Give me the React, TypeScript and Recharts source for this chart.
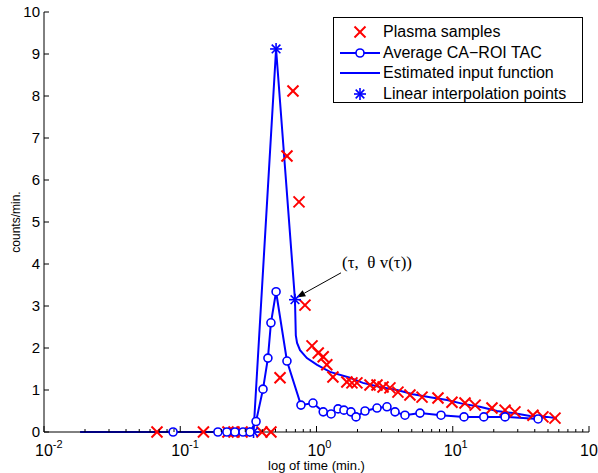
import React from "react";
import {
  ComposedChart,
  Label,
  Legend,
  Line,
  ReferenceLine,
  Scatter,
  XAxis,
  YAxis,
} from "recharts";

// plasma samples (red crosses)
const plasmaTime = [
  0.0675, 0.148, 0.224, 0.248, 0.284, 0.398, 0.463, 0.54, 0.607, 0.672, 0.744, 0.823,
  0.927, 1.03, 1.12, 1.19, 1.32, 1.67, 1.82, 1.98, 2.47, 2.78, 3.08, 3.46, 3.96, 4.85,
  5.95, 7.79, 9.87, 12.3, 14.6, 19.4, 24.2, 28.6, 38.8, 45.9, 56.3,
];
const plasmaCounts = [
  0, 0, 0, 0, 0, 0, 0, 1.29, 6.57, 8.12, 5.48, 3.02,
  2.05, 1.88, 1.79, 1.6, 1.31, 1.19, 1.17, 1.17, 1.12, 1.12, 1.07, 1.05, 0.95, 0.88,
  0.83, 0.81, 0.71, 0.69, 0.64, 0.57, 0.52, 0.48, 0.4, 0.36, 0.33,
];

// average CA-ROI TAC (circles)
const roiTime = [
  0.0886, 0.189, 0.22, 0.252, 0.289, 0.325, 0.36, 0.405, 0.44, 0.463, 0.505, 0.607,
  0.769, 0.942, 1.12, 1.28, 1.44, 1.59, 1.79, 1.95, 2.27, 2.78, 3.29, 3.77, 4.46,
  5.75, 8.2, 12.1, 16.9, 24.2, 42.3,
];
const roiCounts = [
  0, 0, 0, 0, 0, 0, 0.25, 1.02, 1.76, 2.6, 3.34, 1.69,
  0.64, 0.69, 0.48, 0.43, 0.55, 0.52, 0.48, 0.36, 0.5, 0.57, 0.6, 0.48, 0.4,
  0.45, 0.4, 0.36, 0.36, 0.36, 0.31,
];

// estimated input function (plain line)
const inputTime = [
  0.0184, 0.345, 0.505, 0.695, 0.705, 0.72, 0.757, 0.85, 1.01, 1.256, 1.76, 2.19, 2.92,
  3.9, 5.11, 6.81, 9.08, 11.9, 15.8, 21.1, 27.7, 36.9, 49.2, 58.2,
];
const inputCounts = [
  0, 0, 9.12, 3.15, 2.3, 2.12, 1.95, 1.76, 1.6, 1.43, 1.29, 1.17, 1.07,
  1.0, 0.9, 0.83, 0.76, 0.67, 0.6, 0.5, 0.45, 0.38, 0.36, 0.33,
];

// linear interpolation points (stars)
const knotTime = [0.345, 0.505, 0.695];
const knotCounts = [0, 9.12, 3.15];

const xTicks = [0.01, 0.1, 1, 10, 100];
const xMinorFactors = [2, 3, 4, 5, 6, 7, 8, 9];
const yTicks = [0, 1, 2, 3, 4, 5, 6, 7, 8, 9, 10];

const zip = (t: number[], y: number[]) => t.map((v, i) => ({ t: v, y: y[i] }));
const plasma = zip(plasmaTime, plasmaCounts);
const roi = zip(roiTime, roiCounts);
const input = zip(inputTime, inputCounts);
const knots = zip(knotTime, knotCounts);

const allXTicks = [
  ...xTicks,
  ...xTicks.slice(0, -1).flatMap((d) => xMinorFactors.map((f) => +(d * f).toPrecision(3))),
].sort((a, b) => a - b);

const SANS = "'Liberation Sans', Arial, Helvetica, sans-serif";
const SERIF = "'Liberation Serif', 'Times New Roman', serif";
const RED = "#ff0000";
const BLUE = "#0000ff";

const isMajor = (v: number) => Math.abs(Math.log10(v) - Math.round(Math.log10(v))) < 1e-6;

function BottomTick({ x, y, payload }: any) {
  const v = payload.value;
  const major = isMajor(v);
  return (
    <g>
      <line x1={x} x2={x} y1={y} y2={y - (major ? 6 : 3)} stroke="#000" />
      {major && (
        <text x={x - 9} y={y + 24} fontSize={16} fontFamily={SANS} fill="#000">
          10
          <tspan dy={-8} fontSize={11}>
            {Math.round(Math.log10(v))}
          </tspan>
        </text>
      )}
    </g>
  );
}

function TopTick({ x, y, payload }: any) {
  const major = isMajor(payload.value);
  return <line x1={x} x2={x} y1={y} y2={y + (major ? 6 : 3)} stroke="#000" />;
}

function LeftTick({ x, y, payload }: any) {
  return (
    <g>
      <line x1={x} x2={x + 5} y1={y} y2={y} stroke="#000" />
      <text x={x - 4} y={y + 5} textAnchor="end" fontSize={15} fontFamily={SANS} fill="#000">
        {payload.value}
      </text>
    </g>
  );
}

function RightTick({ x, y }: any) {
  return <line x1={x} x2={x - 5} y1={y} y2={y} stroke="#000" />;
}

function Cross({ cx, cy }: any) {
  const r = 5.5;
  return (
    <g stroke={RED} strokeWidth={2}>
      <line x1={cx - r} y1={cy - r} x2={cx + r} y2={cy + r} />
      <line x1={cx - r} y1={cy + r} x2={cx + r} y2={cy - r} />
    </g>
  );
}

function Star({ cx, cy }: any) {
  const r = 6;
  const d = r * 0.72;
  return (
    <g stroke={BLUE} strokeWidth={1.6}>
      <line x1={cx - r} y1={cy} x2={cx + r} y2={cy} />
      <line x1={cx} y1={cy - r} x2={cx} y2={cy + r} />
      <line x1={cx - d} y1={cy - d} x2={cx + d} y2={cy + d} />
      <line x1={cx - d} y1={cy + d} x2={cx + d} y2={cy - d} />
    </g>
  );
}

function Ring({ cx, cy }: any) {
  if (cx == null || cy == null) return <g />;
  return <circle cx={cx} cy={cy} r={4} fill="#fff" stroke={BLUE} strokeWidth={1.6} />;
}

function Arrow({ x1, y1, x2, y2 }: any) {
  const ang = Math.atan2(y2 - y1, x2 - x1);
  const len = 9;
  const w = 3.5;
  const bx = x2 - len * Math.cos(ang);
  const by = y2 - len * Math.sin(ang);
  const px = -Math.sin(ang) * w;
  const py = Math.cos(ang) * w;
  return (
    <g>
      <line x1={x1} y1={y1} x2={bx} y2={by} stroke="#000" strokeWidth={1} />
      <polygon points={`${x2},${y2} ${bx + px},${by + py} ${bx - px},${by - py}`} fill="#000" />
      <text x={x1 + 1} y={y1 - 5} fontSize={17} fontFamily={SERIF} fill="#000" style={{ whiteSpace: "pre" }}>
        (τ,  θ v(τ))
      </text>
    </g>
  );
}

const legendRows = [
  { label: "Plasma samples", kind: "cross" },
  { label: "Average CA\u2212ROI TAC", kind: "lineRing" },
  { label: "Estimated input function", kind: "line" },
  { label: "Linear interpolation points", kind: "star" },
];

function LegendBox() {
  return (
    <div
      style={{
        width: 250,
        height: 86,
        boxSizing: "border-box",
        border: "1px solid #000",
        background: "#fff",
        paddingTop: 4,
        fontFamily: SANS,
        fontSize: 16,
        color: "#000",
        lineHeight: "20.5px",
      }}
    >
      {legendRows.map((r) => (
        <div key={r.label} style={{ display: "flex", alignItems: "center", height: 20.5 }}>
          <svg width={49} height={20} style={{ flex: "none" }}>
            {(r.kind === "line" || r.kind === "lineRing") && (
              <line x1={6} x2={46} y1={10} y2={10} stroke={BLUE} strokeWidth={2} />
            )}
            {r.kind === "lineRing" && <Ring cx={26} cy={10} />}
            {r.kind === "cross" && <Cross cx={26} cy={10} />}
            {r.kind === "star" && <Star cx={26} cy={10} />}
          </svg>
          <span style={{ whiteSpace: "nowrap" }}>{r.label}</span>
        </div>
      ))}
    </div>
  );
}

export default function App() {
  return (
    <div style={{ position: "absolute", left: 0, top: 0, width: 598, height: 473, background: "#fff" }}>
      <ComposedChart width={598} height={473} margin={{ top: 12, right: 9, bottom: 0, left: 0 }}>
        <XAxis
          dataKey="t"
          type="number"
          scale="log"
          domain={[0.01, 100]}
          allowDataOverflow
          ticks={allXTicks}
          interval={0}
          height={41}
          tickSize={0}
          tickLine={false}
          tickMargin={0}
          tick={<BottomTick />}
          axisLine={{ stroke: "#000" }}
        >
          <Label value="log of time (min.)" position="insideBottom" offset={3} fontSize={13} fontFamily={SANS} fill="#000" />
        </XAxis>
        <XAxis
          xAxisId="top"
          orientation="top"
          dataKey="t"
          type="number"
          scale="log"
          domain={[0.01, 100]}
          allowDataOverflow
          ticks={allXTicks}
          interval={0}
          height={0}
          tickSize={0}
          tickLine={false}
          tickMargin={0}
          tick={<TopTick />}
          axisLine={{ stroke: "#000" }}
        />
        <YAxis
          dataKey="y"
          type="number"
          domain={[0, 10]}
          ticks={yTicks}
          interval={0}
          width={44}
          tickSize={0}
          tickLine={false}
          tickMargin={0}
          tick={<LeftTick />}
          axisLine={{ stroke: "#000" }}
        >
          <Label
            content={({ viewBox }: any) => (
              <text
                transform={`translate(${viewBox.x + 20},${viewBox.y + viewBox.height / 2}) rotate(-90)`}
                textAnchor="middle"
                fontSize={12}
                fontFamily={SANS}
                fill="#000"
              >
                counts/min.
              </text>
            )}
          />
        </YAxis>
        <YAxis
          yAxisId="right"
          orientation="right"
          type="number"
          domain={[0, 10]}
          ticks={yTicks}
          interval={0}
          width={0}
          tickSize={0}
          tickLine={false}
          tickMargin={0}
          tick={<RightTick />}
          axisLine={{ stroke: "#000" }}
        />
        <Legend
          layout="vertical"
          align="center"
          verticalAlign="middle"
          wrapperStyle={{ left: 333, top: 17, width: 250 }}
          content={() => <LegendBox />}
        />
        <Scatter data={plasma} shape={<Cross />} isAnimationActive={false} />
        <Line
          data={roi}
          dataKey="y"
          type="linear"
          stroke={BLUE}
          strokeWidth={2}
          dot={<Ring />}
          activeDot={false}
          isAnimationActive={false}
        />
        <Line
          data={input}
          dataKey="y"
          type="linear"
          stroke={BLUE}
          strokeWidth={2}
          dot={false}
          activeDot={false}
          isAnimationActive={false}
        />
        <Scatter data={knots} shape={<Star />} isAnimationActive={false} />
        <ReferenceLine
          segment={[
            { x: 1.513, y: 3.79 },
            { x: 0.712, y: 3.2 },
          ]}
          shape={<Arrow />}
        />
      </ComposedChart>
    </div>
  );
}
